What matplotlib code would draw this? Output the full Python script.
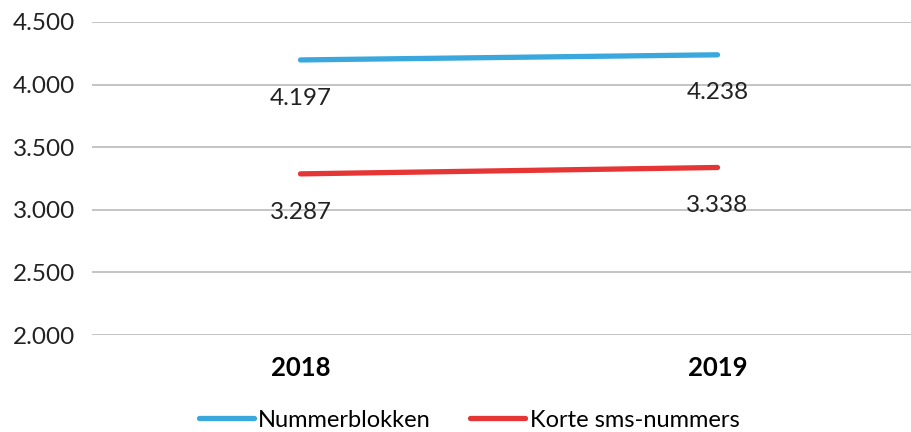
import matplotlib
matplotlib.use("Agg")
import matplotlib.pyplot as plt
from matplotlib.ticker import FuncFormatter

years = ["2018", "2019"]
nummerblokken = [4197, 4238]
korte_sms = [3287, 3338]
series_names = ["Nummerblokken", "Korte sms-nummers"]
colors = ["#3AA8DC", "#E63535"]

plt.rcParams["font.family"] = ["Lato", "DejaVu Sans"]


def dutch(v):
    return f"{int(round(v)):,}".replace(",", ".")


fig = plt.figure(figsize=(9.12, 4.32), dpi=100)
ax = fig.add_axes([92 / 912, 97 / 432, 834 / 912, 313 / 432])

x = range(len(years))
for values, name, color in zip([nummerblokken, korte_sms], series_names, colors):
    ax.plot(x, values, color=color, linewidth=3.8, solid_capstyle="round", label=name, zorder=3)
    for xi, v in zip(x, values):
        ax.annotate(dutch(v), (xi, v), xytext=(0, -27.5), textcoords="offset points",
                    ha="center", va="center", fontsize=17.5, color="#222222")

ax.set_xlim(-0.5, 1.5)
ax.set_ylim(2000, 4500)
ax.set_yticks(range(2000, 4501, 500))
ax.yaxis.set_major_formatter(FuncFormatter(lambda v, p: dutch(v)))
ax.set_xticks(list(x))
ax.set_xticklabels(years, fontweight="bold", fontsize=18.5)
ax.tick_params(axis="y", labelsize=17.5, colors="#222222", length=0, pad=12)
ax.tick_params(axis="x", length=0, pad=15)
ax.grid(axis="y", color="#BFBFBF", linewidth=1.3)
ax.set_axisbelow(True)
for s in ax.spines.values():
    s.set_visible(False)

leg_x = (469 - 92) / 834
ax.legend(loc="center", bbox_to_anchor=(leg_x, -0.272), ncol=2, frameon=False,
          fontsize=17, handlelength=2.35, handletextpad=0.18, columnspacing=1.65,
          borderpad=0.2)

fig.savefig("out.png", dpi=100)
